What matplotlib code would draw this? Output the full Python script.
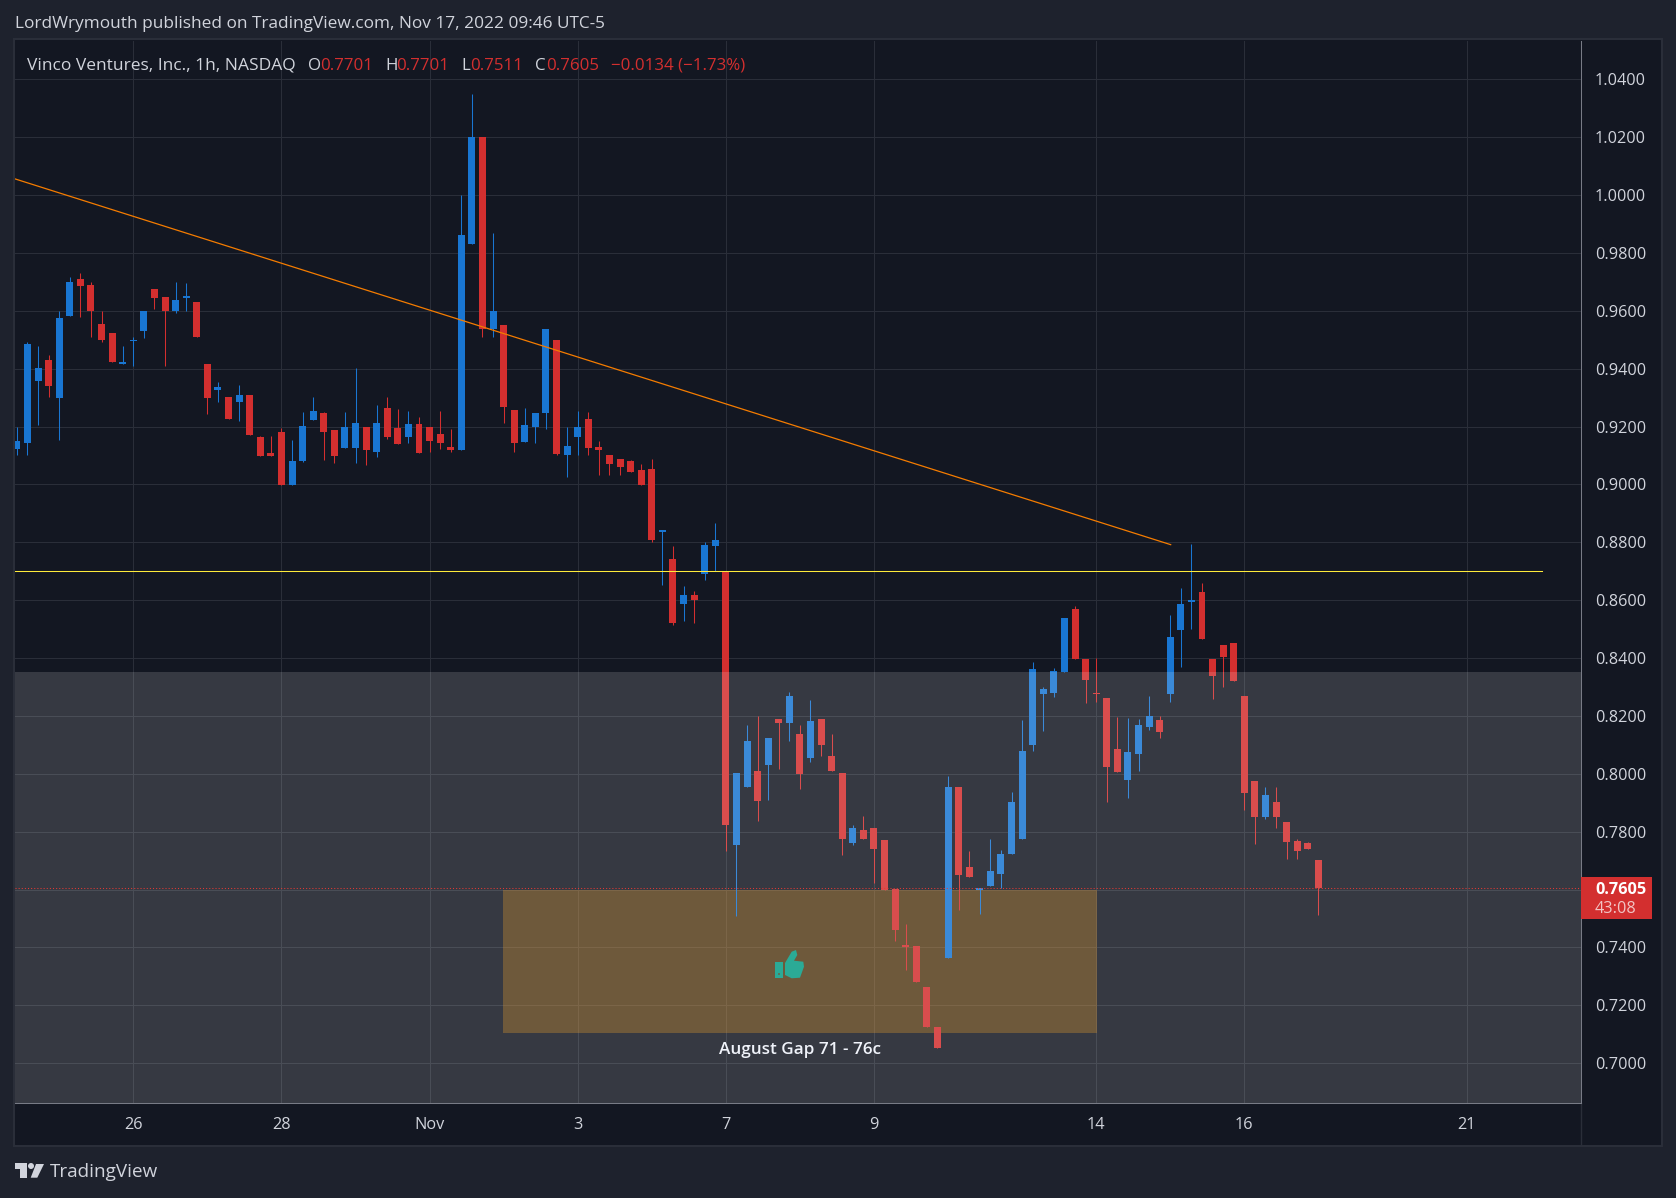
# Vinco Ventures 1h candles, TradingView dark style
import matplotlib
matplotlib.use("Agg")
import matplotlib.pyplot as plt
from matplotlib.patches import Rectangle, Polygon, Circle

# Candle values
opens = [.9122, .9143, .9356, .9432, .9298, .9584, .9711, .9691, .9556, .9525,
         .9418, .9497, .9532, .9674, .9649, .9598, .9646, .9632, .9415, .9325,
         .9301, .9284, .9308, .9163, .9108, .9180, .8998, .9080, .9222, .9246,
         .9187, .9125, .9125, .9198, .9111, .9263, .9194, .9163, .9208, .9200,
         .9174, .9129, .9118, .9832, 1.0200, .9536, .9553, .9256, .9146, .9200,
         .9246, .9501, .9101, .9163, .9225, .9129, .9101, .9087, .9080, .9049,
         .9053, .8836, .8743, .8587, .8618, .8691, .8787, .8701, .7753, .7953,
         .8011, .8029, .8191, .8177, .8139, .8056, .8191, .8063, .8001, .7760,
         .7805, .7811, .7771, .7601, .7408, .7405, .7263, .7125, .7363, .7953,
         .7677, .7598, .7611, .7653, .7722, .7774, .8101, .8277, .8280, .8353,
         .8570, .8398, .8280, .8263, .8084, .7980, .8067, .8163, .8187, .8277,
         .8498, .8594, .8629, .8398, .8446, .8453, .8270, .7974, .7849, .7901,
         .7832, .7767, .7760, .7701]
highs = [.9198, .9491, .9477, .9449, .9601, .9718, .9732, .9701, .9601, .9525,
         .9477, .9511, .9601, .9674, .9649, .9701, .9698, .9632, .9415, .9353,
         .9301, .9343, .9308, .9167, .9167, .9194, .9153, .9249, .9301, .9249,
         .9187, .9249, .9401, .9198, .9274, .9301, .9260, .9253, .9232, .9200,
         .9253, .9191, 1.0001, 1.0349, 1.0200, .9870, .9553, .9256, .9263, .9246,
         .9539, .9501, .9200, .9253, .9249, .9149, .9101, .9087, .9084, .9070,
         .9087, .8843, .8787, .8649, .8632, .8801, .8867, .8701, .8001, .8170,
         .8201, .8122, .8191, .8284, .8167, .8256, .8191, .8136, .8001, .7822,
         .7853, .7811, .7771, .7601, .7480, .7405, .7263, .7125, .7994, .7953,
         .7732, .7605, .7774, .7736, .7936, .8187, .8387, .8301, .8367, .8539,
         .8580, .8398, .8401, .8263, .8198, .8194, .8191, .8270, .8201, .8549,
         .8643, .8794, .8660, .8398, .8446, .8453, .8270, .7974, .7953, .7953,
         .7832, .7774, .7763, .7701]
lows = [.9101, .9101, .9205, .9301, .9153, .9584, .9580, .9511, .9491, .9422,
        .9415, .9408, .9505, .9608, .9411, .9594, .9601, .9511, .9243, .9284,
        .9225, .9218, .9170, .9098, .9098, .8998, .8998, .9077, .9222, .9084,
        .9074, .9125, .9074, .9067, .9094, .9156, .9139, .9143, .9108, .9111,
        .9122, .9111, .9118, .9832, .9511, .9511, .9211, .9111, .9146, .9143,
        .9191, .9101, .9025, .9101, .9101, .9032, .9032, .9032, .9043, .8998,
        .8801, .8653, .8515, .8529, .8522, .8670, .8701, .7732, .7508, .7953,
        .7836, .7908, .8015, .8112, .7949, .8042, .8060, .8011, .7718, .7753,
        .7774, .7622, .7598, .7422, .7322, .7280, .7125, .7053, .7363, .7529,
        .7643, .7515, .7611, .7605, .7722, .7774, .8080, .8149, .8267, .8353,
        .8398, .8243, .8249, .7901, .8005, .7915, .8011, .8153, .8125, .8249,
        .8370, .8501, .8467, .8260, .8301, .8322, .7874, .7756, .7843, .7811,
        .7705, .7705, .7739, .7511]
closes = [.9149, .9487, .9401, .9339, .9577, .9701, .9687, .9598, .9501, .9422,
          .9425, .9501, .9601, .9646, .9598, .9636, .9653, .9511, .9298, .9336,
          .9225, .9308, .9170, .9098, .9098, .8998, .9080, .9201, .9253, .9180,
          .9098, .9200, .9211, .9118, .9211, .9163, .9139, .9208, .9108, .9149,
          .9143, .9118, .9863, 1.0200, .9539, .9601, .9267, .9143, .9205, .9246,
          .9536, .9105, .9132, .9200, .9125, .9118, .9070, .9060, .9043, .8998,
          .8808, .8843, .8522, .8618, .8601, .8791, .8808, .7822, .8001, .8115,
          .7905, .8122, .8177, .8270, .7998, .8184, .8098, .8011, .7774, .7811,
          .7774, .7739, .7598, .7460, .7401, .7280, .7125, .7053, .7956, .7649,
          .7643, .7605, .7663, .7722, .7901, .8080, .8363, .8294, .8356, .8539,
          .8398, .8325, .8277, .8025, .8005, .8077, .8167, .8201, .8146, .8474,
          .8587, .8601, .8467, .8339, .8405, .8322, .7932, .7849, .7925, .7849,
          .7763, .7732, .7739, .7605]

# Axis ticks
price_ticks = [.70, .72, .74, .76, .78, .80, .82, .84, .86, .88, .90, .92, .94, .96, .98, 1.00, 1.02, 1.04]
date_ticks = [11, 25, 39, 53, 67, 81, 102, 116, 137]
date_labels = ["26", "28", "Nov", "3", "7", "9", "14", "16", "21"]

# Drawings on the chart
trend_x = [-0.152, 109.04]
trend_y = [1.0056, 0.8792]
level_x = [-0.152, 144.09]
level_y = [0.87, 0.87]
gap_x = [45.94, 102.05]
gap_y = [0.7105, 0.76]
zone_top = 0.8353
last_price = 0.7605

W, H = 1676, 1198
BG = "#131722"
OUTER = "#1E222D"
GRID = "#2A2E39"
AXIS = "#787B86"
TEXT = "#D1D4DC"
UP = "#1976D2"
DOWN = "#D32F2F"
FONT = "Open Sans"

# chart pane in pixels
LEFT, RIGHT, TOP, BOTTOM = 15.3, 1580.7, 40.7, 1103.3
PANEL_R, PANEL_B = 1660.7, 1144

plt.rcParams["font.family"] = FONT
fig = plt.figure(figsize=(W / 100, H / 100), dpi=100, facecolor=OUTER)

# backdrop for price and time scales, drawn in pixel coordinates
back = fig.add_axes([0, 0, 1, 1], zorder=0)
back.set_xlim(0, W)
back.set_ylim(H, 0)
back.axis("off")
back.add_patch(Rectangle((LEFT - 1.5, TOP - 1.5), PANEL_R - LEFT + 3, PANEL_B - TOP + 3,
                         facecolor=BG, edgecolor=GRID, linewidth=1.5))
back.plot([RIGHT, RIGHT], [BOTTOM, PANEL_B], color=GRID, linewidth=1)

ax = fig.add_axes([LEFT / W, 1 - BOTTOM / H, (RIGHT - LEFT) / W, (BOTTOM - TOP) / H], zorder=1)
ax.set_facecolor(BG)
ax.set_xlim(-0.152, 147.79)
ax.set_ylim(0.6861, 1.0534)

# grid
ax.set_axisbelow(True)
ax.grid(True, color=GRID, linewidth=0.75)
ax.set_xticks(date_ticks)
ax.set_xticklabels(date_labels)
ax.set_yticks(price_ticks)
ax.set_yticklabels([f"{p:.4f}" for p in price_ticks])
ax.yaxis.tick_right()
ax.tick_params(axis="y", length=0, pad=10.2, labelcolor=TEXT, labelsize=11.7)
ax.tick_params(axis="x", length=0, pad=10, labelcolor=TEXT, labelsize=11.7)
for name, spine in ax.spines.items():
    spine.set_visible(name in ("right", "bottom"))
    spine.set_color(AXIS)
    spine.set_linewidth(0.75)

# orange gap box sits under the candles
ax.fill_between(gap_x, gap_y[0], gap_y[1], facecolor="#D2830B", alpha=0.35, linewidth=0, zorder=1.5)

# candles
xs = list(range(len(opens)))
colors = [UP if c >= o else DOWN for o, c in zip(opens, closes)]
ax.vlines(xs, lows, highs, colors=colors, linewidth=0.75, zorder=3)
bottoms = [min(o, c) for o, c in zip(opens, closes)]
heights = [abs(c - o) for o, c in zip(opens, closes)]
ax.bar(xs, heights, bottom=bottoms, width=0.66, color=colors, linewidth=0, zorder=3)

# trend line and level
ax.plot(trend_x, trend_y, color="#F57C00", linewidth=0.9, zorder=4)
ax.plot(level_x, level_y, color="#FFEB3B", linewidth=0.75, zorder=4)

# grey zone covers everything below it, candles too
ax.axhspan(ax.get_ylim()[0], zone_top, facecolor="white", alpha=0.15, linewidth=0, zorder=5)

# last price dotted line
ax.axhline(last_price, color="#E53935", linewidth=0.75, linestyle=(0, (1, 2)), zorder=6)

# overlay for text and logo, pixel coordinates
top = fig.add_axes([0, 0, 1, 1], zorder=2)
top.set_xlim(0, W)
top.set_ylim(H, 0)
top.axis("off")
top.patch.set_alpha(0)

top.text(15, 24, "LordWrymouth published on TradingView.com, Nov 17, 2022 09:46 UTC-5",
         color=TEXT, fontsize=12.4, va="center")
top.text(27, 65.5, "Vinco Ventures, Inc., 1h, NASDAQ", color=TEXT, fontsize=12.5, va="center")
legend_parts = [(307.7, "O", TEXT), (320, "0.7701", DOWN), (385, "H", TEXT), (396, "0.7701", DOWN),
                (461.7, "L", TEXT), (470, "0.7511", DOWN), (535, "C", TEXT), (546, "0.7605", DOWN),
                (611, "\u22120.0134 (\u22121.73%)", DOWN)]
for x, label, col in legend_parts:
    top.text(x, 65.5, label, color=col, fontsize=12.2, va="center")

top.text(800, 1050.5, "August Gap 71 - 76c", color="#F0F3FA", fontsize=12.3, fontweight="semibold",
         ha="center", va="center")

# price tag on the scale
top.add_patch(Rectangle((RIGHT, 877), 71, 41.7, facecolor=DOWN, edgecolor="none"))
top.text(1595, 890, "0.7605", color="white", fontsize=11.7, fontweight="bold", va="center")
top.text(1595, 909, "43:08", color="#F2C4C4", fontsize=11.7, va="center")

# thumbs up icon
TEAL = "#2BAA96"
top.add_patch(Rectangle((775, 962), 7.7, 16, facecolor=TEAL, edgecolor="none"))
top.add_patch(Circle((779, 974), 0.9, facecolor="#6F5A3C", edgecolor="none"))
top.add_patch(Polygon([(785, 963), (791.7, 951.7), (796, 950), (797.3, 955), (794, 960.7), (803.3, 961.7),
                       (804, 966.7), (800, 977.7), (791.7, 978.3), (785, 975)],
                      closed=True, facecolor=TEAL, edgecolor="none"))

# TradingView logo
top.add_patch(Polygon([(15, 1163.3), (27.3, 1163.3), (27.3, 1177.7), (20, 1177.7), (20, 1169), (15, 1169)],
                      closed=True, facecolor=TEXT, edgecolor="none"))
top.add_patch(Circle((31, 1166), 3, facecolor=TEXT, edgecolor="none"))
top.add_patch(Polygon([(36, 1164), (44, 1164), (37.3, 1177.7), (30.7, 1177.7)],
                      closed=True, facecolor=TEXT, edgecolor="none"))
top.text(50, 1172, "TradingView", color=TEXT, fontsize=13.6, va="center")

fig.savefig("out.png", dpi=100, facecolor=OUTER)
